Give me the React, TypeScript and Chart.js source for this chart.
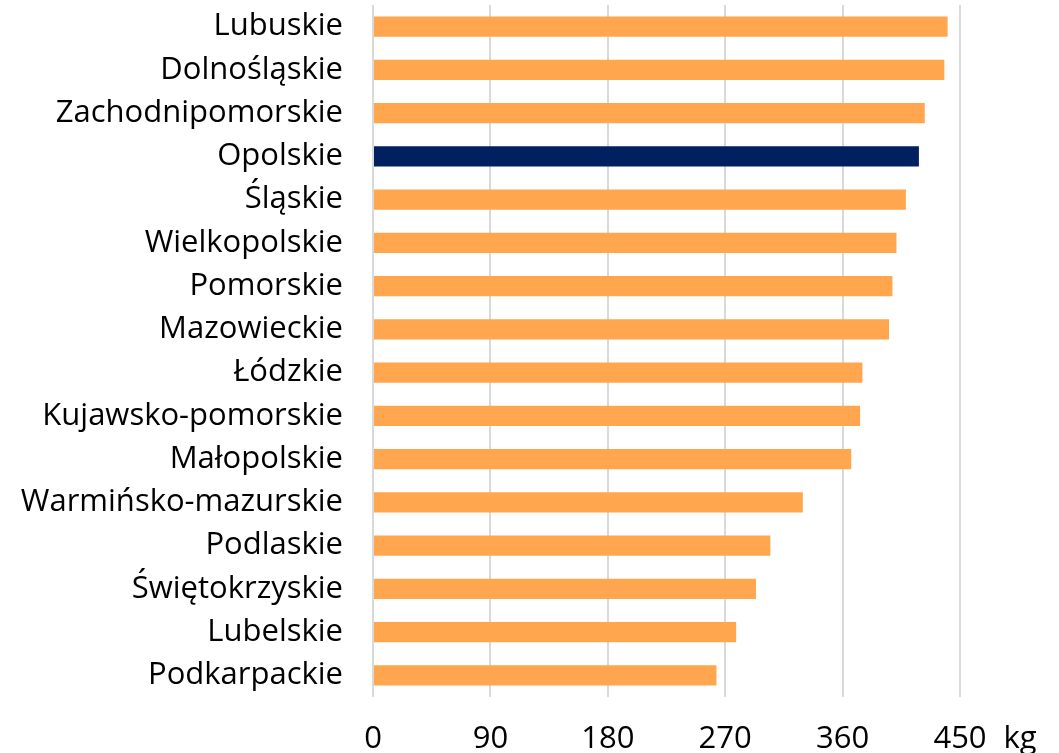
import React, { useEffect, useRef } from 'react';
import { Chart, registerables } from 'chart.js';

Chart.register(...registerables);

const categories = [
  'Lubuskie',
  'Dolnośląskie',
  'Zachodnipomorskie',
  'Opolskie',
  'Śląskie',
  'Wielkopolskie',
  'Pomorskie',
  'Mazowieckie',
  'Łódzkie',
  'Kujawsko-pomorskie',
  'Małopolskie',
  'Warmińsko-mazurskie',
  'Podlaskie',
  'Świętokrzyskie',
  'Lubelskie',
  'Podkarpackie',
];

const values = [440.5, 438, 423, 418.5, 408.5, 401.3, 398.2, 395.6, 375.2, 373.4, 366.6, 329.5, 304.6, 293.6, 278.4, 263.3];

const highlighted = 'Opolskie';
const xTickValues = [0, 90, 180, 270, 360, 450];
const unitLabel = 'kg';

const ORANGE = '#FFA64F';
const NAVY = '#00205F';
const GRID = '#D9D9D9';
const FONT = 'Open Sans';
const FONT_SIZE = 31;
const X_TICK_PADDING = 24;

export default function App() {
  const canvasRef = useRef<HTMLCanvasElement | null>(null);

  useEffect(() => {
    document.body.style.margin = '0';
    const canvas = canvasRef.current;
    if (!canvas) return;

    const unitPlugin = {
      id: 'unitLabel',
      afterDraw(chart: any) {
        const xs = chart.scales.x;
        const ctx = chart.ctx;
        ctx.save();
        ctx.font = `${FONT_SIZE}px "${FONT}"`;
        ctx.fillStyle = '#000';
        ctx.textAlign = 'center';
        ctx.textBaseline = 'middle';
        const x = xs.getPixelForValue(xTickValues[xTickValues.length - 1]) + 60;
        const y = xs.top + X_TICK_PADDING + FONT_SIZE * 0.6;
        ctx.fillText(unitLabel, x, y);
        ctx.restore();
      },
    };

    const chart = new Chart(canvas, {
      type: 'bar',
      data: {
        labels: categories,
        datasets: [
          {
            data: values,
            backgroundColor: categories.map((c) => (c === highlighted ? NAVY : ORANGE)),
            borderWidth: 0,
            barPercentage: 0.463,
            categoryPercentage: 1,
          },
        ],
      },
      options: {
        indexAxis: 'y',
        animation: false,
        responsive: false,
        maintainAspectRatio: false,
        layout: { padding: { top: 5, right: 99, left: 0, bottom: 0 } },
        plugins: {
          legend: { display: false },
          tooltip: { enabled: false },
        },
        scales: {
          x: {
            type: 'linear',
            min: 0,
            max: 450,
            afterBuildTicks(scale: any) {
              scale.ticks = xTickValues.map((v) => ({ value: v }));
            },
            afterFit(scale: any) {
              scale.height = 56;
              scale.paddingLeft = 0;
              scale.paddingRight = 0;
            },
            grid: { color: GRID, lineWidth: 2, drawTicks: false },
            border: { display: false },
            ticks: {
              color: '#000',
              padding: X_TICK_PADDING,
              font: { family: FONT, size: FONT_SIZE },
              maxRotation: 0,
            },
          },
          y: {
            afterFit(scale: any) {
              scale.width = 373;
              scale.paddingTop = 0;
              scale.paddingBottom = 0;
            },
            grid: { display: false, drawTicks: false },
            border: { display: false },
            ticks: {
              color: '#000',
              padding: 30,
              font: { family: FONT, size: FONT_SIZE },
            },
          },
        },
      },
      plugins: [unitPlugin],
    });

    return () => chart.destroy();
  }, []);

  return (
    <div style={{ width: 1059, height: 753 }}>
      <canvas ref={canvasRef} width={1059} height={753} style={{ display: 'block' }} />
    </div>
  );
}
